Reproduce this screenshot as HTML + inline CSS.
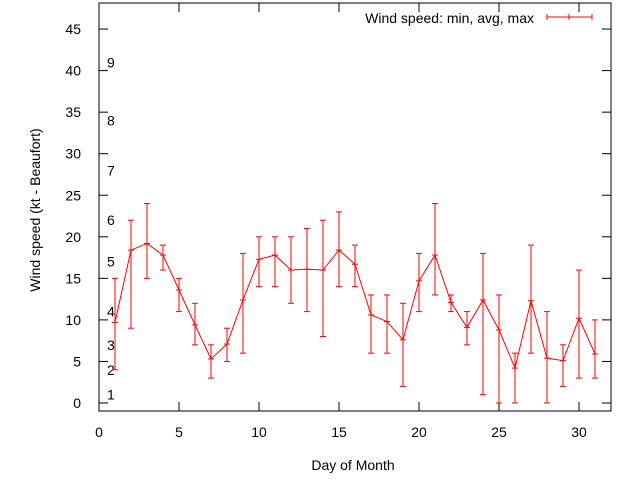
<!DOCTYPE html>
<html><head><meta charset="utf-8"><style>
body{margin:0;background:#fff}
svg{display:block;font-family:"Liberation Sans",sans-serif}
</style></head><body>
<svg id="c" width="640" height="480">
<rect x="99" y="3" width="512" height="408" fill="none" stroke="#000" stroke-width="1"/>
<g id="ticks"></g>
<text x="353" y="470" font-size="14" text-anchor="middle">Day of Month</text>
<text transform="translate(40,210) rotate(-90)" font-size="14" text-anchor="middle">Wind speed (kt - Beaufort)</text>
<text x="534" y="23" font-size="14" text-anchor="end">Wind speed: min, avg, max</text>
<g stroke="red" stroke-width="1">
<line x1="547" y1="17" x2="592" y2="17"/><line x1="547" y1="14" x2="547" y2="20"/><line x1="592" y1="14" x2="592" y2="20"/><line x1="569" y1="14" x2="569" y2="20"/>
</g>
<g id="marks"></g>
</svg>
<script>
const days=[1,2,3,4,5,6,7,8,9,10,11,12,13,14,15,16,17,18,19,20,21,22,23,24,25,26,27,28,29,30,31];
const avgs=[9.7,18.4,19.2,17.8,13.6,9.4,5.3,7.1,12.4,17.3,17.8,16,16.1,16,18.4,16.7,10.6,9.8,7.6,14.7,17.8,12.1,9.1,12.4,8.8,4.2,12.3,5.4,5.1,10.2,5.9];
const mins=[4,9,15,16,11,7,3,5,6,14,14,12,11,8,14,14,6,6,2,11,13,11,7,1,0,0,6,0,2,3,3];
const maxs=[15,22,24,19,15,12,7,9,18,20,20,20,21,22,23,19,13,13,12,18,24,13,11,18,13,6,19,11,7,16,10];
const yTicks=[0,5,10,15,20,25,30,35,40,45];
const xTicks=[0,5,10,15,20,25,30];
const bftLabels=["1","2","3","4","5","6","7","8","9"];
const bftValues=[1,4,7,11,17,22,28,34,41];
const X=v=>99+v*16;
const Y=v=>403-v*8.31;
const NS="http://www.w3.org/2000/svg";
function mk(t,a,p){const e=document.createElementNS(NS,t);for(const k in a)e.setAttribute(k,a[k]);p.appendChild(e);return e;}
const tk=document.getElementById('ticks'),mg=document.getElementById('marks');
yTicks.forEach(v=>{
 const l=mk('line',{x1:99,x2:108,y1:Y(v),y2:Y(v),stroke:'#000'},tk);
 
 
 const r=mk('line',{x1:602,x2:611,y1:Y(v),y2:Y(v),stroke:'#000'},tk);
 
 
 const t=mk('text',{x:81,y:Y(v)+5,'font-size':14,'text-anchor':'end'},tk);t.textContent=v;
 
 
});
xTicks.forEach(v=>{
 const l=mk('line',{x1:X(v),x2:X(v),y1:411,y2:402,stroke:'#000'},tk);
 
 
 const u=mk('line',{x1:X(v),x2:X(v),y1:3,y2:12,stroke:'#000'},tk);
 
 
 const t=mk('text',{x:X(v),y:437,'font-size':14,'text-anchor':'middle'},tk);t.textContent=v;
 
 
});
bftLabels.forEach((s,i)=>{
 const t=mk('text',{x:107,y:Y(bftValues[i])+5,'font-size':14},tk);t.textContent=s;
 
 
});
const pl=mk('polyline',{points:days.map((d,i)=>X(d)+','+Y(avgs[i])).join(' '),fill:'none',stroke:'red'},mg);


days.forEach((d,i)=>{
 const g=mk('g',{stroke:'red'},mg);
 
 
 const x=X(d);
 mk('line',{x1:x,x2:x,y1:Y(mins[i]),y2:Y(maxs[i])},g);
 mk('line',{x1:x-3,x2:x+3,y1:Y(mins[i]),y2:Y(mins[i])},g);
 mk('line',{x1:x-3,x2:x+3,y1:Y(maxs[i]),y2:Y(maxs[i])},g);
 mk('line',{x1:x-3,x2:x+3,y1:Y(avgs[i]),y2:Y(avgs[i])},g);
});
</script>
</body></html>
